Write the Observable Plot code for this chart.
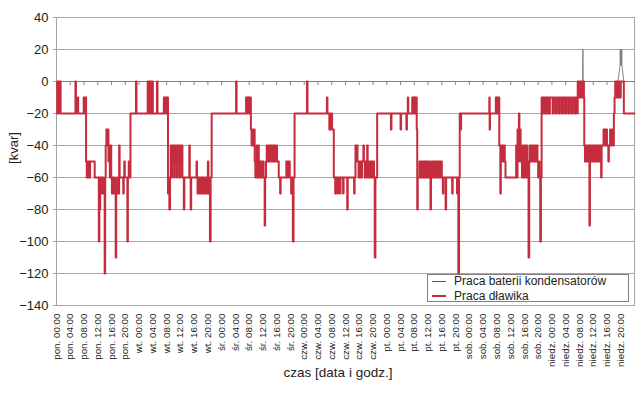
<!DOCTYPE html>
<html><head><meta charset="utf-8">
<script src="https://cdn.jsdelivr.net/npm/d3@7"></script>
<script src="https://cdn.jsdelivr.net/npm/@observablehq/plot@0.6"></script>
<style>
body{margin:0;background:#fff;font-family:"Liberation Sans",Arial,sans-serif;}
#wrap{position:relative;width:639px;height:399px;overflow:hidden;}
.legend{position:absolute;left:427px;top:274px;width:200px;height:26px;border:1px solid #808080;background:#fff;font-size:12px;color:#222;}
.legend .t{position:absolute;left:26px;height:14px;line-height:14px;white-space:nowrap;}
.legend .s{position:absolute;left:4px;width:14px;}
</style></head><body><div id="wrap"></div>
<script>
const days = ["pon.","wt.","śr.","czw.","pt.","sob.","niedz."];
const hoursOfDay = ["00:00","04:00","08:00","12:00","16:00","20:00"];
const yTicks = [-140,-120,-100,-80,-60,-40,-20,0,20,40];
const seriesNames = ["Praca baterii kondensatorów","Praca dławika"];

// [hour of week, kvar]
const bateriaPoints = [
[0,0],[152.9,0],[153.0,20],[153.1,0],[163.2,0],[163.8,10],[163.85,20],[164.0,10],[164.1,20],[164.2,10],[164.3,20],[164.35,10],[164.9,0],[168,0]
];

const dlawikPoints = [
[0,-20],[0.2,0],[0.5,-20],[0.7,0],[1.2,-20],
[5.5,0],[5.65,-20],[6.1,-10],[6.3,-20],
[7.9,-10],[8.1,-20],[8.2,-10],[8.6,-50],[8.8,-60],[9.0,-50],[9.2,-60],[9.4,-50],[9.6,-60],[9.75,-50],
[11.1,-60],
[12.3,-100],[12.45,-60],[12.6,-80],[12.7,-60],[12.9,-70],[13.1,-60],[13.3,-70],[13.5,-60],[13.7,-70],
[14.0,-120],[14.15,-60],[14.3,-40],[14.5,-30],[14.7,-40],[14.9,-30],[15.1,-50],[15.3,-40],[15.5,-60],[15.7,-40],[15.9,-60],
[16.1,-70],[16.3,-60],[16.5,-70],[16.8,-60],[17.0,-70],[17.2,-110],[17.35,-70],[17.6,-60],[17.8,-70],
[18.2,-40],[18.35,-60],
[19.4,-70],[19.55,-60],[19.7,-50],[19.85,-60],
[20.6,-100],[20.75,-60],[21.0,-50],[21.15,-60],[21.5,-20],
[23.1,0],[23.25,-20],
[26.5,0],[26.7,-20],[26.9,0],[27.1,-20],[27.3,0],[27.5,-20],[27.7,0],[28.0,-20],
[29.2,0],[29.35,-20],
[31.2,-10],[31.4,-20],[31.5,-10],[31.7,-20],[31.8,-10],[32.1,-20],[32.2,-10],[32.4,-70],[32.6,-60],[32.8,-80],[33.0,-60],
[33.2,-40],[33.4,-60],[33.6,-40],[33.8,-50],[34.0,-40],[34.2,-60],[34.4,-40],[34.6,-50],[34.8,-40],[35.0,-60],[35.2,-40],[35.4,-50],[35.6,-40],[35.8,-60],[36.0,-40],[36.2,-50],[36.4,-40],[36.6,-60],
[37.0,-80],[37.15,-60],
[38.6,-40],[38.75,-60],[39.0,-80],[39.15,-60],
[40.7,-50],[40.85,-60],[41.0,-70],[41.2,-60],[41.4,-70],[41.6,-60],[41.8,-70],[42.0,-60],[42.2,-70],[42.4,-60],[42.6,-70],[42.8,-60],[43.0,-70],[43.2,-60],[43.4,-70],[43.6,-60],[43.8,-70],
[44.0,-50],[44.15,-70],[44.4,-60],[44.6,-100],[44.8,-60],[45.1,-20],
[52.2,0],[52.35,-20],
[55.1,-10],[55.3,-20],[55.4,-10],[55.6,-20],[55.7,-10],[56.0,-20],[56.1,-10],[56.5,-30],[56.7,-40],[56.9,-30],[57.1,-40],[57.3,-30],[57.6,-50],
[57.8,-60],[58.0,-50],[58.2,-40],[58.4,-60],[58.6,-40],[58.8,-50],[59.0,-60],[59.2,-50],[59.4,-60],[59.6,-50],[59.8,-60],[60.0,-50],[60.2,-60],[60.5,-90],[60.65,-60],[60.9,-50],
[61.1,-40],[61.3,-50],[61.5,-40],[61.7,-50],[61.9,-40],[62.1,-50],[62.3,-40],[62.5,-50],[62.7,-40],[62.9,-50],[63.1,-40],[63.3,-50],[63.5,-40],[63.7,-50],[63.9,-40],[64.1,-50],
[64.6,-60],[65.0,-70],[65.15,-60],
[66.8,-50],[67.0,-60],[67.2,-50],[67.4,-60],[67.6,-50],[67.8,-60],
[68.2,-70],[68.35,-60],[68.7,-100],[68.9,-60],[69.2,-20],
[72.8,0],[72.95,-20],
[78.6,-10],[78.75,-20],
[79.3,-30],[79.5,-20],[79.7,-30],[79.9,-20],[80.1,-30],[80.6,-60],
[81.0,-70],[81.15,-60],[81.7,-70],[81.85,-60],[82.4,-70],[82.55,-60],[83.3,-70],[83.45,-60],[84.5,-80],[84.65,-60],[86.5,-70],[86.65,-60],
[86.9,-40],[87.1,-50],[87.3,-40],[87.5,-50],[87.8,-60],[88.0,-50],[88.2,-60],[88.4,-50],[88.6,-60],[88.8,-50],[89.2,-40],[89.35,-50],[89.6,-60],[89.8,-50],[90.0,-60],[90.3,-40],[90.45,-50],[90.7,-60],[90.9,-50],[91.1,-60],[91.3,-50],[91.5,-60],[91.7,-50],[91.9,-60],[92.1,-50],[92.3,-60],[92.5,-110],[92.7,-60],[93.2,-20],
[97.2,-30],[97.35,-20],[100.0,-30],[100.15,-20],[101.7,-30],[101.85,-20],
[102.1,-10],[102.25,-20],
[103.4,-10],[103.6,-20],[103.7,-10],[103.9,-20],[104.0,-10],[104.2,-20],[104.3,-10],[104.7,-30],[104.85,-80],[105.0,-60],
[105.5,-50],[105.7,-60],[105.9,-50],[106.1,-60],[106.3,-50],[106.5,-60],[106.7,-50],[106.9,-60],[107.1,-50],[107.3,-60],[107.5,-50],[107.7,-60],[107.9,-50],[108.1,-60],[108.3,-50],[108.5,-60],[108.7,-80],[108.85,-60],
[109.0,-50],[109.2,-60],[109.4,-50],[109.6,-60],[109.8,-50],[110.0,-60],[110.2,-50],[110.4,-60],[110.6,-50],[110.8,-60],[111.0,-50],[111.2,-60],[111.4,-50],[111.6,-60],[111.8,-50],[112.0,-60],
[112.3,-70],[112.45,-60],[113.1,-80],[113.25,-60],[115.0,-70],[115.15,-60],[116.4,-70],[116.55,-60],[116.8,-120],[117.0,-60],[117.2,-20],[117.5,-30],[117.6,-20],
[125.8,-10],[125.9,-30],[126.0,-20],
[127.7,-10],[127.9,-20],[128.0,-10],[128.2,-20],[128.3,-10],[128.7,-40],
[129.0,-70],[129.15,-50],[129.3,-40],[129.5,-50],[129.7,-40],[129.9,-50],[130.1,-40],[130.3,-50],[130.5,-60],
[133.6,-40],[133.8,-60],[134.0,-30],[134.2,-50],[134.4,-20],[134.55,-40],[134.7,-30],[134.9,-50],[135.1,-40],[135.3,-60],[135.5,-50],[135.7,-40],[135.9,-60],[136.1,-40],[136.3,-50],[136.5,-60],[136.7,-40],[136.9,-50],
[137.2,-110],[137.4,-50],[137.6,-40],[137.8,-50],[138.0,-40],[138.2,-50],[138.4,-40],[138.6,-50],[138.8,-40],[139.0,-50],[139.2,-40],[139.4,-50],[139.6,-40],[139.8,-50],[140.0,-60],[140.2,-50],[140.4,-60],[140.6,-100],[140.8,-60],[141.0,-10],
[141.2,-20],[141.4,-10],[141.6,-20],[141.8,-10],[142.0,-20],[142.2,-10],[142.4,-20],[142.6,-10],[142.8,-20],[143.0,-10],[143.2,-20],
[143.4,-10],[144.2,-20],[144.5,-10],[145.1,-20],[145.4,-10],[146.0,-20],[146.3,-10],[146.9,-20],[147.2,-10],[147.8,-20],[148.1,-10],[148.7,-20],[149.0,-10],[149.6,-20],[149.9,-10],[150.5,-20],[150.8,-10],[151.3,-20],[151.5,0],
[151.7,-10],[151.9,0],[152.1,-10],[152.3,0],[152.5,-10],[152.7,0],[152.9,-10],[153.1,0],[153.3,-10],[153.4,-40],
[153.6,-50],[153.8,-40],[154.0,-50],[154.2,-40],[154.4,-50],[154.6,-40],[154.9,-90],[155.05,-40],[155.3,-50],[155.5,-40],[155.7,-50],[155.9,-40],[156.1,-50],[156.3,-40],[156.5,-50],[156.7,-40],[156.9,-50],[157.1,-40],[157.3,-50],[157.5,-40],[157.7,-50],[157.9,-40],[158.3,-60],[158.45,-40],
[159.0,-30],[159.2,-40],[159.4,-30],[159.6,-40],[159.8,-30],[160.0,-40],[160.4,-50],[160.55,-40],[160.9,-30],[161.05,-40],[161.5,-30],[161.65,-40],
[162.0,-20],[162.2,-10],[162.4,0],[162.6,-10],[162.8,0],[163.0,-10],[163.2,0],[163.4,-10],[163.6,0],[163.8,-10],[164.0,0],[164.9,-20],[168,-20]
];

const tickHours = [];
const tickLabel = new Map();
days.forEach((dn, di) => hoursOfDay.forEach((hs, hi) => {
  const h = di * 24 + hi * 4;
  tickHours.push(h);
  tickLabel.set(h, dn + " " + hs);
}));

const gridColor = "#a6a6a6";
const chart = Plot.plot({
  width: 639, height: 399,
  marginLeft: 56, marginRight: 5, marginTop: 17, marginBottom: 94,
  style: {fontFamily: "'Liberation Sans', Arial, sans-serif", color: "#222", background: "#fff", overflow: "visible"},
  x: {domain: [0, 168]},
  y: {domain: [-140, 40]},
  marks: [
    Plot.gridY(yTicks, {stroke: gridColor, strokeOpacity: 1}),
    Plot.frame({stroke: gridColor}),
    Plot.ruleX(tickHours, {x: d => d, y1: 0, y2: -2.5, stroke: "#8a8a8a"}),
    Plot.line(bateriaPoints, {x: d => d[0], y: d => d[1], stroke: "#7a7a7a", strokeWidth: 0.9}),
    Plot.line(dlawikPoints, {x: d => d[0], y: d => d[1], curve: "step-after", stroke: "#c52d3f", strokeWidth: 2}),
    Plot.axisY(yTicks, {tickSize: 3, tickPadding: 5, fontSize: 13, stroke: gridColor, label: null}),
    Plot.axisX(tickHours, {tickSize: 0, tickPadding: 8, tickRotate: -90, fontSize: 9.8, label: null, tickFormat: d => tickLabel.get(d)})
  ]
});

const svg = d3.select(chart);
svg.append("text").attr("transform", "translate(18,148) rotate(-90)").attr("text-anchor", "middle")
  .attr("font-size", 13).attr("fill", "#222").text("[kvar]");
svg.append("text").attr("x", 338).attr("y", 377).attr("text-anchor", "middle")
  .attr("font-size", 13.5).attr("fill", "#222").text("czas [data i godz.]");

const wrap = document.getElementById("wrap");
wrap.appendChild(chart);
const lg = document.createElement("div");
lg.className = "legend";
lg.innerHTML =
  `<div class="s" style="top:6px;height:1px;background:#555"></div><div class="t" style="top:-1px">${seriesNames[0]}</div>` +
  `<div class="s" style="top:20px;height:2px;background:#c52d3f"></div><div class="t" style="top:14px">${seriesNames[1]}</div>`;
wrap.appendChild(lg);
</script></body></html>
